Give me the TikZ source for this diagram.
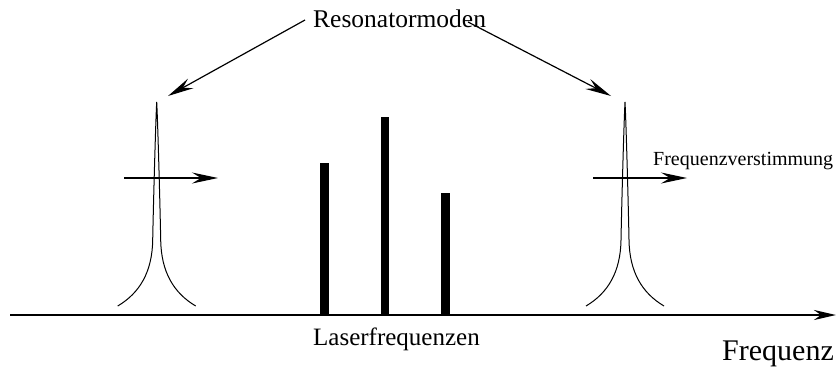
\documentclass[tikz,border=0pt]{standalone}
\usepackage{fontspec}
\setmainfont{Liberation Serif}
\usetikzlibrary{arrows.meta}
\tikzset{
  bigtip/.style={-{Stealth[length=26pt,width=11pt,inset=9pt]}},
  thinline/.style={line width=1pt},
  arrowline/.style={line width=1.2pt, bigtip},
  axisline/.style={line width=2.6pt, -{Stealth[length=22pt,width=10pt,inset=7pt]}},
  bar/.style={fill=black},
  lbl/.style={inner sep=0pt, anchor=base west},
  peak/.pic={
    \draw[thinline] (-39,306) .. controls (-17,293) and (-4.5,272) .. (-4,240)
      .. controls (-3.5,212) and (-1.2,125) .. (0,102)
      .. controls (1.2,125) and (3.5,212) .. (4,240)
      .. controls (4.5,272) and (17,293) .. (39,306);
  }
}
\begin{document}
\begin{tikzpicture}[x=1pt,y=-1pt]
\useasboundingbox (0,0) rectangle (837,370);

% axis
\coordinate (axL) at (10,315);
\coordinate (axR) at (836,315);
\draw[axisline] (axL) -- (axR);

% resonator peaks
\pic at (156.7,0) {peak};
\pic at (625,0) {peak};

% laser bars
\fill[bar] (320,315) rectangle (329,163);
\fill[bar] (381,315) rectangle (389,117);
\fill[bar] (441,315) rectangle (450,193);

% detuning arrows
\coordinate (dl1) at (124,178);
\coordinate (dl2) at (218,178);
\coordinate (dr1) at (593,178);
\coordinate (dr2) at (687,178);
\draw[arrowline] (dl1) -- (dl2);
\draw[arrowline] (dr1) -- (dr2);

% labels
\node[lbl, font=\fontsize{25.5}{30}\selectfont] (res) at (313,27) {Resonatormoden};
\node[lbl, font=\fontsize{20}{24}\selectfont] (fv) at (653,165) {Frequenzverstimmung};
\node[lbl, font=\fontsize{25}{30}\selectfont] (lf) at (313,345) {Laserfrequenzen};
\node[lbl, font=\fontsize{30}{36}\selectfont] (fq) at (722,360) {Frequenz};

% arrows from label to peaks
\coordinate (rs1) at (305,20);
\coordinate (rs2) at (468,22);
\coordinate (pkL) at (168,96);
\coordinate (pkR) at (611,96);
\draw[arrowline] (rs1) -- (pkL);
\draw[arrowline] (rs2) -- (pkR);
\end{tikzpicture}
\end{document}
